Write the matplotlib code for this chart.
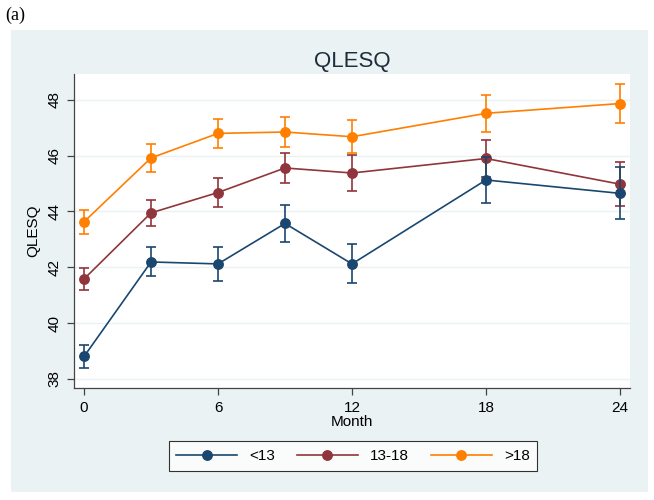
import matplotlib
matplotlib.use("Agg")
import matplotlib.pyplot as plt
from matplotlib.patches import Rectangle
from matplotlib.lines import Line2D

plt.rcParams['font.family'] = ['Liberation Sans', 'DejaVu Sans']

months = [0, 3, 6, 9, 12, 18, 24]

lt13 = [38.80, 42.19, 42.12, 43.57, 42.12, 45.13, 44.65]
lt13_err = [0.42, 0.52, 0.62, 0.66, 0.70, 0.82, 0.93]

mid = [41.58, 43.95, 44.68, 45.56, 45.38, 45.90, 44.98]
mid_err = [0.40, 0.46, 0.53, 0.55, 0.65, 0.67, 0.78]

gt18 = [43.63, 45.92, 46.80, 46.85, 46.68, 47.52, 47.87]
gt18_err = [0.44, 0.49, 0.52, 0.55, 0.60, 0.67, 0.70]

labels = ['<13', '13-18', '>18']
colors = ['#1a476f', '#90353b', '#ff7f00']

fig = plt.figure(figsize=(6.54, 5.0), dpi=100)
fig.patch.set_facecolor('white')
# light grey-blue panel behind the plot (stata look)
fig.add_artist(Rectangle((11 / 654, 8 / 500), 637 / 654, 462 / 500,
                         transform=fig.transFigure, facecolor='#eaf2f3',
                         edgecolor='none', zorder=-5))
fig.text(5 / 654, 1 - 15 / 500, '(a)', family='Liberation Serif', fontsize=13,
         va='center', ha='left')

ax = fig.add_axes([74 / 654, 1 - 388 / 500, 556 / 654, 314 / 500])
ax.set_zorder(1)
ax.set_facecolor('white')

data = [(lt13, lt13_err), (mid, mid_err), (gt18, gt18_err)]
for i in [2, 1, 0]:
    vals, errs = data[i]
    ax.errorbar(months, vals, yerr=errs, color=colors[i], marker='o', markersize=6.8,
                linewidth=1.2, elinewidth=1.2, capsize=3.3, capthick=1.2,
                zorder=3 + (2 - i))

ax.set_xlim(-0.45, 24.45)
ax.set_ylim(37.67, 48.93)
ax.set_xticks([0, 6, 12, 18, 24])
ax.set_yticks([38, 40, 42, 44, 46, 48])
ax.grid(axis='y', color='#eaf2f3', linewidth=1.0)
ax.set_axisbelow(True)
for s in ['top', 'right']:
    ax.spines[s].set_visible(False)
for s in ['left', 'bottom']:
    ax.spines[s].set_color('#444444')
    ax.spines[s].set_linewidth(0.9)
ax.tick_params(axis='both', direction='out', length=5, width=0.9, color='#444444',
               labelsize=11, pad=4)
for t in ax.get_yticklabels():
    t.set_rotation(90)
    t.set_va('center')

ax.set_xlabel('Month', fontsize=11, labelpad=0)
ax.set_ylabel('QLESQ', fontsize=11, labelpad=5)
ax.set_title('QLESQ', fontsize=16, color='#1e2d3b', pad=5)

handles = [Line2D([], [], color=c, marker='o', markersize=6.8, linewidth=1.2)
           for c in colors]
leg = fig.legend(handles, labels, loc='center',
                 bbox_to_anchor=(353 / 654, 1 - 456 / 500), ncol=3,
                 fontsize=11, frameon=True, fancybox=False, edgecolor='black',
                 handlelength=4.0, columnspacing=1.4, handletextpad=0.8,
                 borderpad=0.5)
leg.get_frame().set_linewidth(0.8)

fig.savefig('out.png', dpi=100, facecolor=fig.get_facecolor())
